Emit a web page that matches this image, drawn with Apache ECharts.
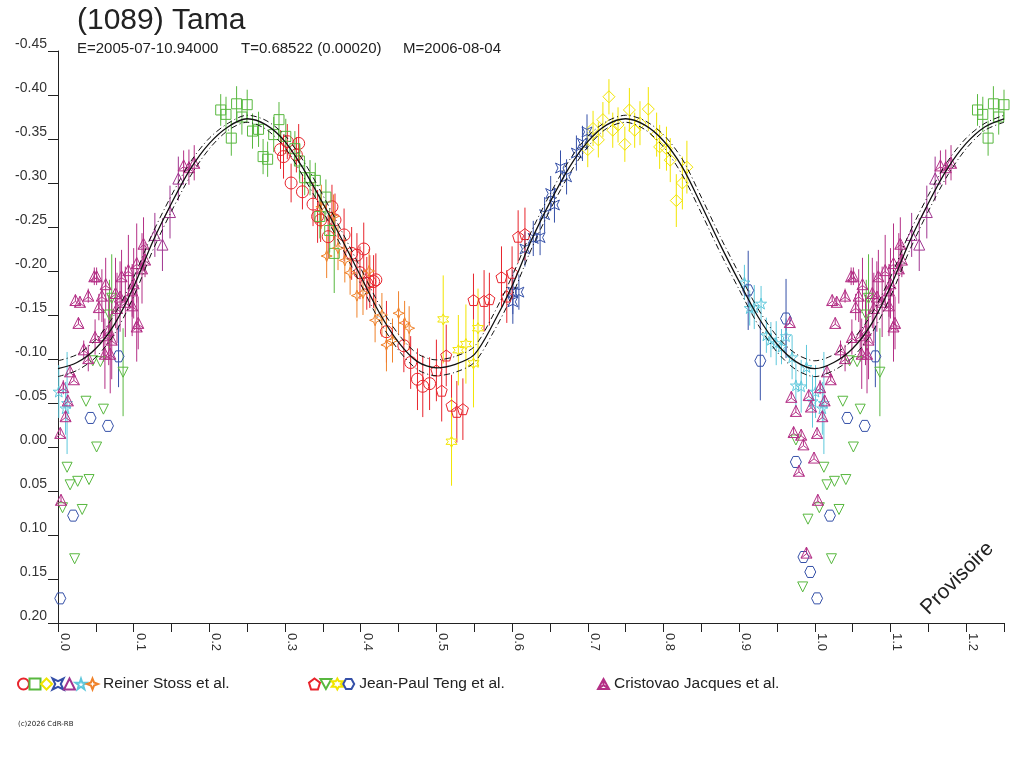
<!DOCTYPE html>
<html>
<head>
<meta charset="utf-8">
<title>(1089) Tama</title>
<script src="https://cdn.jsdelivr.net/npm/echarts@6/dist/echarts.min.js"></script>
<style>
html,body{margin:0;padding:0;background:#fff;}
#main{width:1024px;height:768px;}
</style>
</head>
<body>
<div id="main"></div>
<script>
// model curve, phase 0..1 (repeated up to 1.25)
var modelPhase = [0,0.025,0.05,0.075,0.1,0.125,0.15,0.175,0.2,0.225,0.25,0.275,0.3,0.325,0.35,0.375,0.4,0.425,0.45,0.475,
	0.5,0.525,0.55,0.575,0.6,0.625,0.65,0.675,0.7,0.725,0.75,0.775,0.8,0.825,0.85,0.875,0.9,0.925,0.95,0.975,1.0];
var modelMid = [-0.089,-0.096,-0.112,-0.140,-0.182,-0.233,-0.277,-0.316,-0.345,-0.364,-0.373,-0.366,-0.347,-0.315,-0.277,-0.236,-0.194,-0.152,-0.119,-0.097,
	-0.090,-0.094,-0.105,-0.140,-0.183,-0.234,-0.278,-0.317,-0.347,-0.366,-0.373,-0.366,-0.348,-0.318,-0.275,-0.230,-0.188,-0.148,-0.117,-0.097,-0.089];
var modelUp = [-0.098,-0.105,-0.122,-0.151,-0.193,-0.243,-0.286,-0.324,-0.351,-0.368,-0.377,-0.371,-0.354,-0.324,-0.286,-0.245,-0.203,-0.161,-0.128,-0.106,
	-0.099,-0.103,-0.114,-0.150,-0.194,-0.244,-0.287,-0.325,-0.353,-0.370,-0.377,-0.371,-0.355,-0.327,-0.284,-0.239,-0.197,-0.157,-0.126,-0.106,-0.098];
var modelLow = [-0.080,-0.087,-0.102,-0.129,-0.171,-0.223,-0.268,-0.308,-0.339,-0.360,-0.369,-0.361,-0.340,-0.306,-0.268,-0.227,-0.185,-0.143,-0.110,-0.088,
	-0.081,-0.085,-0.096,-0.130,-0.172,-0.224,-0.269,-0.309,-0.341,-0.362,-0.369,-0.361,-0.341,-0.309,-0.266,-0.221,-0.179,-0.139,-0.108,-0.088,-0.080];

// observations [phase, mag, error]
// Reiner Stoss et al.
var rsCircle = [[0.294,-0.338,0.022],[0.303,-0.347,0.02],[0.318,-0.345,0.022],[0.298,-0.330,0.025],[0.315,-0.332,0.02],[0.308,-0.300,0.022],
	[0.323,-0.290,0.02],[0.337,-0.276,0.025],[0.343,-0.262,0.03],[0.347,-0.258,0.025],[0.362,-0.273,0.025],[0.366,-0.258,0.03],[0.357,-0.239,0.025],
	[0.378,-0.241,0.03],[0.388,-0.220,0.03],[0.404,-0.225,0.03],[0.395,-0.218,0.025],[0.399,-0.198,0.03],[0.412,-0.188,0.03],[0.420,-0.190,0.03],
	[0.417,-0.188,0.03],[0.408,-0.186,0.03],[0.434,-0.131,0.035],[0.457,-0.115,0.03],[0.466,-0.096,0.03],[0.475,-0.077,0.035],[0.482,-0.069,0.035],
	[0.491,-0.072,0.03]];
var rsSquare = [[0.215,-0.383,0.018],[0.222,-0.378,0.02],[0.236,-0.390,0.02],[0.250,-0.389,0.017],[0.243,-0.375,0.02],[0.229,-0.351,0.02],
	[0.257,-0.359,0.02],[0.265,-0.361,0.02],[0.292,-0.372,0.02],[0.285,-0.355,0.02],[0.271,-0.330,0.02],[0.277,-0.327,0.02],[0.301,-0.353,0.02],
	[0.313,-0.339,0.02],[0.319,-0.325,0.02],[0.326,-0.306,0.02],[0.333,-0.306,0.02],[0.340,-0.303,0.02],[0.354,-0.284,0.02],[0.346,-0.262,0.025],
	[0.359,-0.246,0.025],[0.365,-0.220,0.045]];
var rsDiamond = [[0.728,-0.398,0.02],[0.755,-0.383,0.025],[0.780,-0.384,0.025],[0.707,-0.362,0.02],[0.720,-0.372,0.02],[0.714,-0.349,0.02],
	[0.700,-0.338,0.02],[0.733,-0.360,0.02],[0.740,-0.366,0.02],[0.749,-0.344,0.02],[0.762,-0.360,0.02],[0.769,-0.368,0.025],[0.791,-0.355,0.025],
	[0.795,-0.341,0.025],[0.804,-0.339,0.025],[0.809,-0.326,0.025],[0.825,-0.300,0.03],[0.831,-0.318,0.03],[0.817,-0.280,0.03]];
var rsCross = [[0.699,-0.358,0.02],[0.693,-0.345,0.02],[0.685,-0.334,0.02],[0.664,-0.317,0.02],[0.672,-0.307,0.02],[0.651,-0.288,0.02],
	[0.656,-0.275,0.02],[0.643,-0.264,0.02],[0.637,-0.238,0.02],[0.628,-0.237,0.02],[0.617,-0.225,0.02],[0.601,-0.176,0.025],[0.609,-0.176,0.02],
	[0.601,-0.165,0.025]];
var rsTriangle = [[0.138,-0.230,0.03],[0.148,-0.267,0.03],[0.159,-0.305,0.025],[0.128,-0.241,0.025]];
var rsStar = [[0.001,-0.063,0.03],[0.012,-0.050,0.058],[0.010,-0.044,0.03],[0.907,-0.187,0.02],[0.914,-0.158,0.02],[0.920,-0.159,0.025],
	[0.929,-0.163,0.02],[0.936,-0.127,0.02],[0.942,-0.122,0.02],[0.949,-0.118,0.025],[0.956,-0.114,0.02],[0.962,-0.126,0.02],[0.970,-0.102,0.025],
	[0.989,-0.091,0.025],[0.975,-0.070,0.025],[0.982,-0.069,0.03],[0.997,-0.052,0.03]];
var rsSpark = [[0.348,-0.273,0.025],[0.364,-0.262,0.025],[0.355,-0.217,0.025],[0.370,-0.226,0.025],[0.379,-0.212,0.025],[0.386,-0.198,0.025],
	[0.411,-0.200,0.025],[0.395,-0.172,0.025],[0.403,-0.175,0.025],[0.428,-0.150,0.025],[0.450,-0.152,0.025],[0.419,-0.144,0.025],[0.458,-0.141,0.025],
	[0.464,-0.135,0.025],[0.434,-0.116,0.03],[0.442,-0.121,0.025]];
// Jean-Paul Teng et al.
var jpPentagon = [[0.500,-0.087,0.035],[0.507,-0.064,0.035],[0.513,-0.104,0.035],[0.520,-0.047,0.035],[0.527,-0.040,0.035],[0.535,-0.043,0.035],
	[0.549,-0.167,0.03],[0.563,-0.166,0.035],[0.570,-0.168,0.03],[0.586,-0.193,0.035],[0.593,-0.171,0.03],[0.600,-0.198,0.03],[0.608,-0.239,0.03],
	[0.617,-0.242,0.03]];
var jpTriDown = [[0.037,-0.052,0],[0.060,-0.043,0],[0.051,0.000,0],[0.012,0.023,0],[0.026,0.039,0],[0.041,0.037,0],[0.016,0.043,0],[0.006,0.069,0],
	[0.032,0.071,0],[0.022,0.127,0],[0.086,-0.085,0.05],[0.046,-0.098,0],[0.056,-0.097,0],[0.071,-0.169,0.05],[0.068,-0.150,0.04],
	[0.975,-0.008,0],[0.991,0.082,0],[0.984,0.159,0]];
var jpStar = [[0.509,-0.145,0.05],[0.555,-0.135,0.045],[0.539,-0.117,0.045],[0.529,-0.110,0.04],[0.549,-0.095,0.05],[0.520,-0.006,0.05]];
var jpHex = [[0.043,-0.033,0],[0.066,-0.024,0],[0.020,0.078,0],[0.003,0.172,0],[0.080,-0.103,0.035],[0.912,-0.178,0.045],[0.928,-0.098,0.045],
	[0.962,-0.146,0.045],[0.975,0.017,0],[0.985,0.125,0],[0.994,0.142,0]];
// Cristovao Jacques et al.
var cjTrefoil = [[0.166,-0.320,0.017],[0.173,-0.318,0.02],[0.180,-0.323,0.02],[0.113,-0.231,0.03],[0.115,-0.213,0.02],[0.111,-0.203,0.04],
	[0.104,-0.209,0.045],[0.093,-0.201,0.04],[0.084,-0.194,0.03],[0.100,-0.186,0.04],[0.098,-0.178,0.03],[0.048,-0.194,0.01],[0.051,-0.194,0.01],
	[0.023,-0.167,0.005],[0.029,-0.165,0.005],[0.040,-0.172,0.008],[0.063,-0.185,0.03],[0.058,-0.172,0.03],[0.054,-0.159,0.015],[0.027,-0.141,0.005],
	[0.076,-0.175,0.04],[0.082,-0.171,0.04],[0.089,-0.165,0.04],[0.098,-0.161,0.035],[0.078,-0.158,0.04],[0.106,-0.141,0.03],[0.104,-0.137,0.04],
	[0.067,-0.133,0.04],[0.049,-0.125,0.02],[0.060,-0.127,0.03],[0.071,-0.122,0.045],[0.034,-0.111,0.01],[0.040,-0.101,0.015],[0.062,-0.106,0.04],
	[0.069,-0.106,0.045],[0.016,-0.086,0.005],[0.021,-0.077,0.005],[0.007,-0.068,0.008],[0.013,-0.053,0.005],[0.010,-0.035,0.005],[0.003,-0.016,0.005],
	[0.004,0.060,0.005],[0.967,-0.142,0.005],[0.969,-0.057,0.005],[0.992,-0.059,0.005],[0.975,-0.041,0.005],[0.995,-0.046,0.005],[0.972,-0.017,0.005],
	[0.982,-0.014,0.005],[0.985,-0.003,0.005],[0.999,0.012,0.005],[0.979,0.027,0.005],[0.989,0.120,0.005]];

var xTicks = [0,1.25,0.05];
var yTicks = [-0.45,0.20,0.05];
var FONT = 'Liberation Sans, Arial, sans-serif';

// symbols
var SYM = {
	cross : 'path://M0,0 L5,2.5 L10,0 L7.5,5 L10,10 L5,7.5 L0,10 L2.5,5 Z',
	star5 : 'path://M5,0 L6.2,3.6 L10,3.6 L7,5.9 L8.1,9.5 L5,7.3 L1.9,9.5 L3,5.9 L0,3.6 L3.8,3.6 Z',
	spark : 'path://M5,0 L6.4,3.6 L10,5 L6.4,6.4 L5,10 L3.6,6.4 L0,5 L3.6,3.6 Z',
	penta : 'path://M5,0 L10,3.8 L8.1,10 L1.9,10 L0,3.8 Z',
	tridown : 'path://M0,0 L10,0 L5,9 Z',
	star6 : 'path://M5,0 L6.4,2.6 L10,2.6 L8,5 L10,7.4 L6.4,7.4 L5,10 L3.6,7.4 L0,7.4 L2,5 L0,2.6 L3.6,2.6 Z',
	hex : 'path://M2.5,0 L7.5,0 L10,4.5 L7.5,9 L2.5,9 L0,4.5 Z',
	trefoil : 'path://M5,0 L10,9 L0,9 Z M5,0 L5,5.5 M5,5.5 L0,9 M5,5.5 L10,9'
};

// points in phase 0..0.25 are drawn again at phase+1
function wrap(arr){
	var out = arr.slice();
	for(var i=0;i<arr.length;i++){
		if(arr[i][0]+1<=1.25) out.push([arr[i][0]+1,arr[i][1],arr[i][2]]);
	}
	return out;
}
function model(vals){
	var out = [];
	for(var i=0;i<modelPhase.length;i++) out.push([modelPhase[i],vals[i]]);
	for(var j=1;j<modelPhase.length;j++){
		if(modelPhase[j]+1<=1.25) out.push([modelPhase[j]+1,vals[j]]);
	}
	return out;
}

var groups = [
	{name:'rs1',data:rsCircle,symbol:'circle',size:12,color:'#e8242c'},
	{name:'rs2',data:rsSquare,symbol:'rect',size:10,color:'#58b83f'},
	{name:'rs3',data:rsDiamond,symbol:'diamond',size:12,color:'#f2e500'},
	{name:'rs4',data:rsCross,symbol:SYM.cross,size:10,color:'#3550a8'},
	{name:'rs5',data:rsTriangle,symbol:'triangle',size:11,color:'#a03590'},
	{name:'rs6',data:rsStar,symbol:SYM.star5,size:11,color:'#5ec8dc'},
	{name:'rs7',data:rsSpark,symbol:SYM.spark,size:11,color:'#f0822a'},
	{name:'jp1',data:jpPentagon,symbol:SYM.penta,size:11,color:'#e8242c'},
	{name:'jp2',data:jpTriDown,symbol:SYM.tridown,size:10,color:'#58b83f'},
	{name:'jp3',data:jpStar,symbol:SYM.star6,size:11,color:'#f2e500'},
	{name:'jp4',data:jpHex,symbol:SYM.hex,size:11,color:'#3550a8'},
	{name:'cj1',data:cjTrefoil,symbol:SYM.trefoil,size:11,color:'#b42f86'}
];

var series = [];
groups.forEach(function(g){
	var pts = wrap(g.data);
	var bars = pts.filter(function(p){ return p[2]>0.006; });
	series.push({
		type:'custom',
		name:g.name+'-err',
		data:bars,
		encode:{x:0,y:1},
		z:1,
		silent:true,
		renderItem:function(params, api){
			var x = api.value(0), y = api.value(1), e = api.value(2);
			var p1 = api.coord([x, y - e]);
			var p2 = api.coord([x, y + e]);
			return {type:'line', shape:{x1:p1[0],y1:p1[1],x2:p2[0],y2:p2[1]}, style:{stroke:g.color,lineWidth:1}};
		}
	});
	series.push({
		type:'scatter',
		name:g.name,
		data:pts.map(function(p){ return [p[0],p[1]]; }),
		symbol:g.symbol,
		symbolSize:g.size,
		z:2,
		itemStyle:{color:'rgba(255,255,255,0)',borderColor:g.color,borderWidth:1,opacity:1}
	});
});
series.push({type:'line',name:'model',data:model(modelMid),showSymbol:false,smooth:0.3,z:3,silent:true,
	lineStyle:{color:'#111',width:1.3}});
series.push({type:'line',name:'model+',data:model(modelUp),showSymbol:false,smooth:0.3,z:3,silent:true,
	lineStyle:{color:'#111',width:1,type:[6,3,1,3]}});
series.push({type:'line',name:'model-',data:model(modelLow),showSymbol:false,smooth:0.3,z:3,silent:true,
	lineStyle:{color:'#111',width:1,type:[6,3,1,3]}});

function legendFor(names, label, left, gap){
	var last = names[names.length-1];
	return {
		data:names, left:left, top:676, orient:'horizontal', padding:0,
		itemWidth:11, itemHeight:11, itemGap:gap, selectedMode:false,
		textStyle:{fontSize:15.5,color:'#222',fontFamily:FONT},
		formatter:function(name){ return name===last ? label : ''; }
	};
}

var option = {
	animation:false,
	backgroundColor:'#fff',
	textStyle:{fontFamily:FONT},
	title:{text:'(1089) Tama',left:72,top:1,textStyle:{fontSize:30,fontWeight:'normal',color:'#222',fontFamily:FONT}},
	grid:{left:58,right:20,top:51,bottom:145,containLabel:false},
	legend:[
		legendFor(['rs1','rs2','rs3','rs4','rs5','rs6','rs7'],'Reiner Stoss et al.',17,-1.5),
		legendFor(['jp1','jp2','jp3','jp4'],'Jean-Paul Teng et al.',308,-1.6),
		legendFor(['cj1'],'Cristovao Jacques et al.',597,0)
	],
	xAxis:{
		type:'value',min:xTicks[0],max:xTicks[1],interval:xTicks[2],
		axisLine:{onZero:false,lineStyle:{color:'#222',width:1}},
		axisTick:{length:9,lineStyle:{color:'#222'}},
		splitLine:{show:false},
		axisLabel:{rotate:-90,margin:10,fontSize:13,color:'#333',verticalAlign:'bottom',showMaxLabel:true,
			formatter:function(v){
				var k = Math.round(v*100);
				return k%10===0 ? (k/100).toFixed(1) : '';
			}}
	},
	yAxis:{
		type:'value',inverse:true,min:yTicks[0],max:yTicks[1],interval:yTicks[2],
		axisLine:{show:true,onZero:false,lineStyle:{color:'#222',width:1}},
		axisTick:{show:true,length:10,lineStyle:{color:'#222'}},
		splitLine:{show:false},
		axisLabel:{margin:11,fontSize:14,color:'#333',verticalAlign:'bottom',
			formatter:function(v){
				if(Math.abs(v)<1e-9) return '0.00';
				return v.toFixed(2);
			}}
	},
	graphic:[
		{type:'text',left:77,top:41,style:{text:'E=2005-07-10.94000',fontSize:15,fill:'#222',fontFamily:FONT}},
		{type:'text',left:241,top:41,style:{text:'T=0.68522 (0.00020)',fontSize:15,fill:'#222',fontFamily:FONT}},
		{type:'text',left:403,top:41,style:{text:'M=2006-08-04',fontSize:15,fill:'#222',fontFamily:FONT}},
		{type:'text',left:917,top:538,rotation:Math.PI/4,
			style:{text:'Provisoire',fontSize:21,fill:'#222',fontFamily:FONT}},
		{type:'text',left:18,top:721,
			style:{text:'(c)2026 CdR-RB',fontSize:7,fill:'#222',fontFamily:'DejaVu Sans, sans-serif'}}
	],
	series:series
};

var myChart = echarts.init(document.getElementById('main'));
myChart.setOption(option);
</script>
</body>
</html>
